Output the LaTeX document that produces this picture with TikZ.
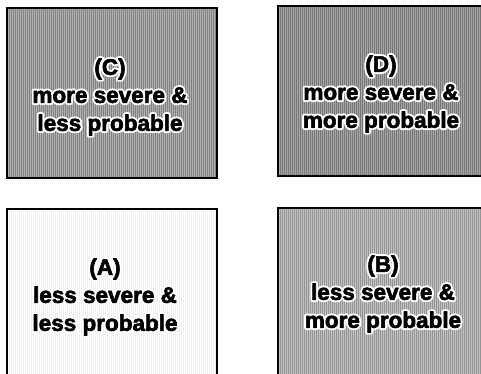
\documentclass[tikz,border=0pt]{standalone}
\usepackage{fontspec}
\setsansfont{Liberation Sans}
\usetikzlibrary{positioning}

\begin{document}
\begin{tikzpicture}[x=1pt, y=-1pt,
    cell/.style={draw, line width=1.2pt, inner sep=0pt},
    stripes/.style={path picture={
        \foreach \i in {0,2,...,220}
            \draw[#1, line width=0.8pt] ([xshift=\i pt]path picture bounding box.south west)
                -- ([xshift=\i pt]path picture bounding box.north west);}},
    lbl/.style={font=\sffamily\bfseries\fontsize{22.5}{28}\selectfont, align=center, inner sep=0pt,
        execute at begin node={\special{pdf:code 2 Tr 0.6 w 1 j}},
        execute at end node={\special{pdf:code 0 Tr}}},
    halo/.style={lbl, text=white,
        execute at begin node={\special{pdf:code 1 Tr 4.5 w 1 j 1 J}}}]
    \useasboundingbox (0,0) rectangle (481,374);
    \clip (0,0) rectangle (481,374);
    % the four quadrants
    \node[cell, fill=black!30, stripes=black!50, minimum width=210pt, minimum height=170pt] (C) at (112,93) {};
    \node[cell, fill=black!34, stripes=black!54, minimum width=212pt, minimum height=170pt] (D) at (384,91) {};
    \node[cell, fill=white, stripes=black!6, minimum width=210pt, minimum height=181pt] (A) at (112,299.5) {};
    \node[cell, fill=black!24, stripes=black!42, minimum width=212pt, minimum height=182pt] (B) at (384,299) {};
    % labels, white outline first
    \node[halo] (Chalo) at (110,97) {(C)\\more severe \&\\less probable};
    \node[lbl] (Ctext) at (Chalo) {(C)\\more severe \&\\less probable};
    \node[halo] (Dhalo) at (381,94) {(D)\\more severe \&\\more probable};
    \node[lbl] (Dtext) at (Dhalo) {(D)\\more severe \&\\more probable};
    \node[halo] (Ahalo) at (105,297) {(A)\\less severe \&\\less probable};
    \node[lbl] (Atext) at (Ahalo) {(A)\\less severe \&\\less probable};
    \node[halo] (Bhalo) at (383,294) {(B)\\less severe \&\\more probable};
    \node[lbl] (Btext) at (Bhalo) {(B)\\less severe \&\\more probable};
\end{tikzpicture}
\end{document}
